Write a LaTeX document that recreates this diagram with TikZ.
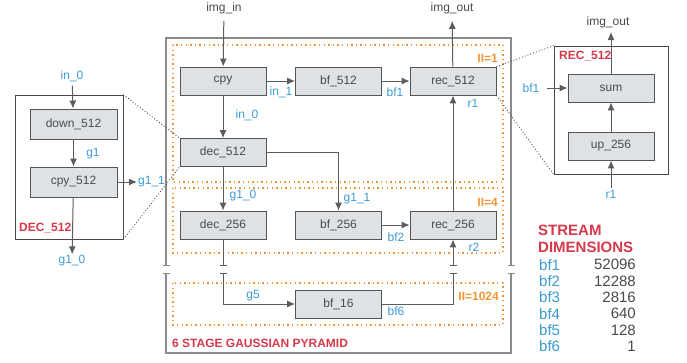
\documentclass[tikz,border=0pt]{standalone}
\usepackage{fontspec}
\setmainfont{Liberation Sans}
\usetikzlibrary{arrows.meta,positioning}
\definecolor{boxfill}{HTML}{DFE2E4}
\definecolor{boxline}{HTML}{555555}
\definecolor{wire}{HTML}{5C5C5C}
\definecolor{framegray}{HTML}{8A8A8A}
\definecolor{lblblue}{HTML}{3A9AD6}
\definecolor{hdred}{HTML}{D43A4B}
\definecolor{iiorange}{HTML}{F29536}
\definecolor{txtgray}{HTML}{4A4A4A}
\newcommand{\fsz}{\fontsize{12}{14}\selectfont}

\tikzset{
  box/.style={draw=boxline, line width=0.9pt, fill=boxfill, minimum width=86pt, minimum height=28pt, text=txtgray, font=\fsz},
  frame/.style={draw=txtgray, line width=0.8pt, inner sep=0pt},
  lbl/.style={text=lblblue, inner sep=1pt, font=\fsz},
  io/.style={text=txtgray, inner sep=1pt, font=\fsz},
  title/.style={text=hdred, inner sep=0pt, font=\fsz\bfseries},
  iilbl/.style={text=iiorange, inner sep=0pt, font=\fsz\bfseries},
  arr/.style={draw=wire, line width=1pt, -{Latex[length=8pt,width=7pt]}},
  wireline/.style={draw=wire, line width=1pt},
  brk/.style={{Bar[width=7pt]}-{Bar[width=7pt]}},
  stage/.style={draw=iiorange, line width=1.1pt, dash pattern=on 1.4pt off 3.2pt},
  zoomline/.style={draw=txtgray, line width=0.8pt, dash pattern=on 1pt off 2pt},
  tbl/.style={inner sep=0pt, font=\fontsize{15}{16.5}\selectfont}
}

\begin{document}
\begin{tikzpicture}[x=1pt,y=-1pt]
\useasboundingbox (0,0) rectangle (687,362);

% pyramid frame and stages
\draw[framegray, line width=1.3pt, brk] (166,266) |- (511,38) -- (511,266);
\draw[framegray, line width=1.3pt, brk] (166,273) |- (511,353) -- (511,273);
\draw[stage] (173,45) rectangle (503,182);
\draw[stage] (173,188) rectangle (503,253);
\draw[stage] (173,283) rectangle (503,325);
\node[iilbl, anchor=east] (ii1) at (498,58) {II=1};
\node[iilbl, anchor=east] (ii4) at (498,202) {II=4};
\node[iilbl, anchor=east] (ii1024) at (499,296) {II=1024};
\node[title, anchor=west] (pyr) at (172,343) {6 STAGE GAUSSIAN PYRAMID};

% stage boxes
\node[box] (cpy) at (223,81) {cpy};
\node[box] (bf512) at (338.5,81) {bf\_512};
\node[box] (rec512) at (453,81) {rec\_512};
\node[box] (dec512) at (223,152.5) {dec\_512};
\node[box] (dec256) at (223,225) {dec\_256};
\node[box] (bf256) at (338.5,225) {bf\_256};
\node[box] (rec256) at (453,225) {rec\_256};
\node[box] (bf16) at (338.5,304) {bf\_16};

\node[io] (imgin) at (224,8) {img\_in};
\node[io] (imgout) at (452,8) {img\_out};
\node[lbl] (lin1) at (281,92) {in\_1};
\node[lbl] (lbf1) at (395,92) {bf1};
\node[lbl] (lr1) at (473,103) {r1};
\node[lbl] (lin0) at (247,115) {in\_0};
\node[lbl] (lg10) at (243,196) {g1\_0};
\node[lbl] (lg11) at (357,199) {g1\_1};
\node[lbl] (lbf2) at (396,237) {bf2};
\node[lbl] (lr2) at (474,247) {r2};
\node[lbl] (lg5) at (253,296) {g5};
\node[lbl] (lbf6) at (396,311) {bf6};

\coordinate (brkl) at (223,273);
\coordinate (brkr) at (453,273);

\draw[arr, shorten <=6pt] (imgin) -- (cpy);
\draw[arr] (cpy) -- (bf512);
\draw[arr] (bf512) -- (rec512);
\draw[arr] (cpy) -- (dec512);
\draw[arr] (dec512) -| (bf256);
\draw[arr] (dec512) -- (dec256);
\draw[arr] (bf256) -- (rec256);
\draw[arr] (rec256) -- (rec512);
\draw[arr, shorten >=6pt] (rec512) -- (imgout);
\draw[wireline, -{Bar[width=7pt]}] (dec256) -- (223,266);
\draw[arr, {Bar[width=7pt]}-{Latex[length=8pt,width=7pt]}] (brkl) |- (bf16);
\draw[wireline, -{Bar[width=7pt]}] (bf16) -| (brkr);
\draw[arr, {Bar[width=7pt]}-{Latex[length=8pt,width=7pt]}] (453,266) -- (rec256);

% DEC_512 detail
\node[frame, minimum width=108pt, minimum height=144pt] (decframe) at (69,167) {};
\node[box, minimum width=87pt, minimum height=30pt] (down512) at (73.5,124) {down\_512};
\node[box, minimum width=87pt, minimum height=30pt] (cpy512) at (73.5,182) {cpy\_512};
\node[lbl] (din0) at (72,76) {in\_0};
\node[lbl] (dg1) at (93,154) {g1};
\node[lbl, anchor=west] (dg11) at (137,182) {g1\_1};
\node[lbl] (dg10) at (72,261) {g1\_0};
\node[title, anchor=west] (dectitle) at (19,228) {DEC\_512};
\draw[arr, shorten <=3pt] (din0) -- (down512);
\draw[arr] (down512) -- (cpy512);
\draw[arr] (cpy512) -- (dg11);
\draw[arr] (cpy512) -- (dg10);
\draw[zoomline] (decframe.north east) -- (dec512.north west);
\draw[zoomline] (decframe.south east) -- (dec512.south west);

% REC_512 detail
\node[frame, minimum width=114pt, minimum height=128pt] (recframe) at (611,110) {};
\node[box] (sum) at (611,88) {sum};
\node[box] (up256) at (611,146) {up\_256};
\node[title, anchor=west] (rectitle) at (559,56) {REC\_512};
\node[io] (rimgout) at (608,22) {img\_out};
\node[lbl] (rbf1) at (531,88) {bf1};
\node[lbl] (rr1) at (611,194) {r1};
\draw[arr, shorten >=2pt] (sum) -- (611,30);
\draw[arr, shorten <=6pt] (rbf1) -- (sum);
\draw[arr] (up256) -- (sum);
\draw[arr, shorten <=1pt] (rr1) -- (up256);
\draw[zoomline] (rec512.north east) -- (recframe.north west);
\draw[zoomline] (rec512.south east) -- (recframe.south west);

% stream dimensions
\node[tbl, text=hdred, font=\fontsize{15}{16.5}\selectfont\bfseries, align=left, anchor=west] (sdim) at (538,239) {STREAM\\DIMENSIONS};
\foreach \n/\v [count=\i] in {1/52096,2/12288,3/2816,4/640,5/128,6/1} {
  \node[tbl, text=lblblue, anchor=west] (sname\n) at (539,248.5+16.3*\i) {bf\n};
  \node[tbl, text=txtgray, anchor=east] (sval\n) at (636,248.5+16.3*\i) {\v};
}
\end{tikzpicture}
\end{document}
